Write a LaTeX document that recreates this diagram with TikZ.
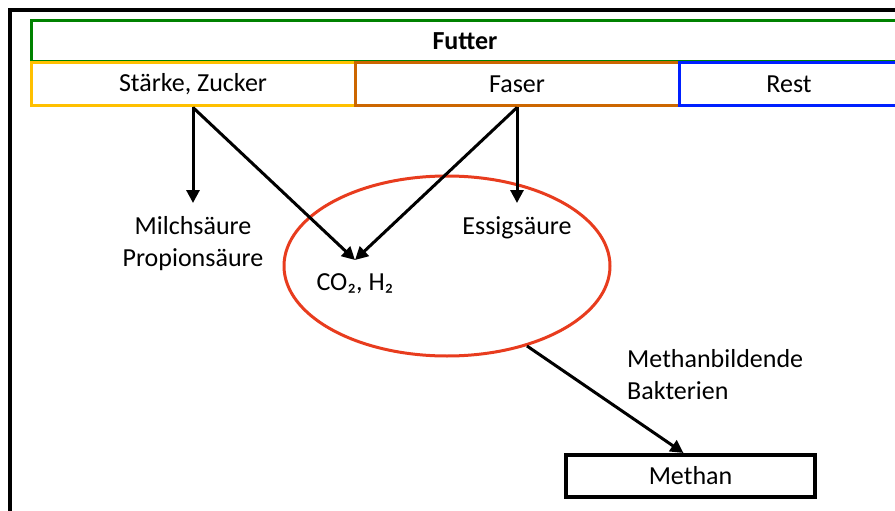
\documentclass[tikz,border=0pt]{standalone}
\usepackage{fontspec}
\setmainfont{Carlito}
\usetikzlibrary{arrows.meta,shapes.geometric}
\definecolor{futtergreen}{RGB}{0,130,0}
\definecolor{staerkeyellow}{RGB}{255,192,0}
\definecolor{faserorange}{RGB}{204,102,0}
\definecolor{restblue}{RGB}{0,32,255}
\definecolor{pansenred}{RGB}{232,60,30}
\tikzset{
  part/.style={draw, line width=3pt, minimum height=43pt, inner sep=0pt, font=\fontsize{26}{32}\selectfont},
  pfeil/.style={-{Triangle[length=13pt,width=13pt]}, line width=3pt},
  txt/.style={font=\fontsize{26}{32}\selectfont, align=center, inner xsep=0pt, inner ysep=13pt}
}
\begin{document}
\begin{tikzpicture}[x=1pt,y=-1pt]
				\clip (0,0) rectangle (895,511);
				\fill[white] (0,0) rectangle (895,511);
				\draw[line width=3.5pt] (10,520) -- (10,10) -- (905,10);
				
				\node[part, draw=futtergreen, minimum width=868pt, minimum height=41pt, font=\fontsize{26}{32}\selectfont\bfseries] (futter) at (465,41.5) {Futter};
				
				\node[part, draw=staerkeyellow, minimum width=324pt] (staerke) at (193,84.5) {Stärke, Zucker};
				\node[part, draw=faserorange, minimum width=324pt] (faser) at (517,84.5) {Faser};
				\node[part, draw=restblue, minimum width=220pt] (rest) at (789,84.5) {Rest};
				
				\node[draw=pansenred, line width=3pt, ellipse, minimum width=326pt, minimum height=180pt] (pansen) at (447,266) {};
				
				\node[txt, anchor=north] (milch) at (193,203) {Milchsäure\\Propionsäure};
				\node[txt, anchor=north] (essig) at (517,203) {Essigsäure};
				\node[txt, anchor=north] (co2) at (355,260) {CO₂, H₂};
				\node[txt, anchor=west, align=left] (bakterien) at (627,375) {Methanbildende\\Bakterien};
				
				\node[part, line width=4pt, minimum width=249pt, minimum height=42pt] (methan) at (690.5,476) {Methan};
				
				\draw[pfeil] (staerke.south) -- (milch.north);
				\draw[pfeil] (staerke.south) -- (co2.north);
				\draw[pfeil] (faser.south) -- (co2.north);
				\draw[pfeil] (faser.south) -- (essig.north);
				\draw[pfeil] (pansen.-45) -- ([xshift=-7pt]methan.north);
			\end{tikzpicture}
\end{document}
